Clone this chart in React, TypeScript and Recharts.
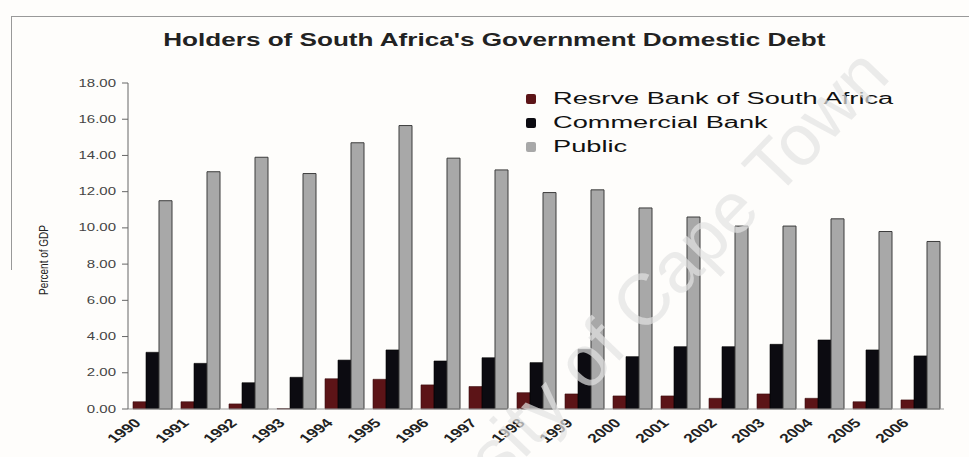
import React from 'react'
import { BarChart, Bar, XAxis, YAxis } from 'recharts'

const years = ['1990', '1991', '1992', '1993', '1994', '1995', '1996', '1997', '1998', '1999', '2000', '2001', '2002', '2003', '2004', '2005', '2006']
const reserveBank = [0.4, 0.4, 0.28, 0.02, 1.67, 1.64, 1.33, 1.24, 0.9, 0.83, 0.72, 0.72, 0.59, 0.83, 0.59, 0.4, 0.5]
const commercialBank = [3.13, 2.52, 1.45, 1.75, 2.7, 3.26, 2.65, 2.83, 2.56, 3.3, 2.89, 3.44, 3.44, 3.57, 3.81, 3.26, 2.93]
const publicHolders = [11.5, 13.1, 13.9, 13.0, 14.7, 15.65, 13.85, 13.2, 11.95, 12.1, 11.1, 10.6, 10.1, 10.1, 10.5, 9.8, 9.25]
const yTicks = [0, 2, 4, 6, 8, 10, 12, 14, 16, 18]

const series = [
  { key: 'reserve', name: 'Resrve Bank of South Africa', fill: '#5c1417', stroke: '#3a0c0e' },
  { key: 'commercial', name: 'Commercial Bank', fill: '#0c0b11', stroke: '#000' },
  { key: 'public', name: 'Public', fill: '#a8a8a8', stroke: '#3c3c3c' },
]

const data = years.map((year, i) => ({
  year,
  reserve: reserveBank[i],
  commercial: commercialBank[i],
  public: publicHolders[i],
}))

const FONT = '"Liberation Sans", Arial, sans-serif'

function YTick({ x, y, payload }: any) {
  return (
    <g transform={`translate(${x - 4},${y})`}>
      <text x={0} y={0} dy={3.5} textAnchor="end" fontSize={10} fill="#444" fontFamily={FONT} transform="scale(1.5,1)">
        {Number(payload.value).toFixed(2)}
      </text>
    </g>
  )
}

function XTick({ x, y, payload }: any) {
  return (
    <g transform={`translate(${x - 14},${y + 4}) scale(1.4,1) rotate(-45)`}>
      <text x={0} y={0} dy={4} textAnchor="end" fontSize={12.5} fontWeight="bold" fill="#222" fontFamily={FONT}>
        {payload.value}
      </text>
    </g>
  )
}

export default function App() {
  return (
    <div style={{ position: 'absolute', left: 0, top: 0, width: 969, height: 457, background: '#fefdfb', overflow: 'hidden' }}>
      {/* frame lines of the scanned figure */}
      <div style={{ position: 'absolute', left: 11, top: 16, width: 958, height: 0, borderTop: '1.5px solid #999' }} />
      <div style={{ position: 'absolute', left: 11, top: 16, width: 0, height: 254, borderLeft: '1.5px solid #999' }} />

      <div style={{ position: 'absolute', left: 0, top: 30, width: 969, textAlign: 'center' }}>
        <span style={{ display: 'inline-block', fontFamily: FONT, fontWeight: 'bold', fontSize: 18, color: '#222', transform: 'translateX(10px) scaleX(1.45)' }}>
          Holders of South Africa's Government Domestic Debt
        </span>
      </div>

      <div style={{ position: 'absolute', left: 0, top: 0 }}>
        <BarChart width={969} height={457} data={data} margin={{ top: 83, right: 25, bottom: 8, left: 0 }}
          barCategoryGap="16%" barGap={0} barSize={13}>
          <XAxis dataKey="year" height={40} tickLine={false} axisLine={{ stroke: '#999' }} tick={<XTick />} interval={0} />
          <YAxis width={128} domain={[0, 18]} ticks={yTicks} tickSize={6} axisLine={{ stroke: '#666' }}
            tickLine={{ stroke: '#666' }} tick={<YTick />} />
          {series.map(s => (
            <Bar key={s.key} dataKey={s.key} name={s.name} fill={s.fill} stroke={s.stroke}
              strokeWidth={s.key === 'public' ? 1 : 0.6} isAnimationActive={false} />
          ))}
        </BarChart>
      </div>

      {/* legend */}
      <div style={{ position: 'absolute', left: 526, top: 87, fontFamily: FONT }}>
        {series.map(s => (
          <div key={s.key} style={{ display: 'flex', alignItems: 'center', height: 24 }}>
            <span style={{ width: 10, height: 10, background: s.fill, borderRadius: 2, marginRight: 17 }} />
            <span style={{ display: 'inline-block', fontSize: 16, color: '#111', transform: 'scaleX(1.7)', transformOrigin: 'left center', whiteSpace: 'nowrap' }}>
              {s.name}
            </span>
          </div>
        ))}
      </div>

      <svg width={969} height={457} style={{ position: 'absolute', left: 0, top: 0, pointerEvents: 'none' }}>
        {/* y axis title */}
        <text x={0} y={0} transform="translate(48,260) scale(1.3,1) rotate(-90)" textAnchor="middle" fontSize={10}
          fontFamily={FONT} fill="#222">
          Percent of GDP
        </text>
        {/* watermark */}
        <text x={0} y={0} transform="translate(892,78) rotate(-46)" textAnchor="end" fontSize={72}
          fontFamily={FONT} fill="#e2e2e2" fillOpacity={0.7}>
          University of Cape Town
        </text>
      </svg>
    </div>
  )
}
